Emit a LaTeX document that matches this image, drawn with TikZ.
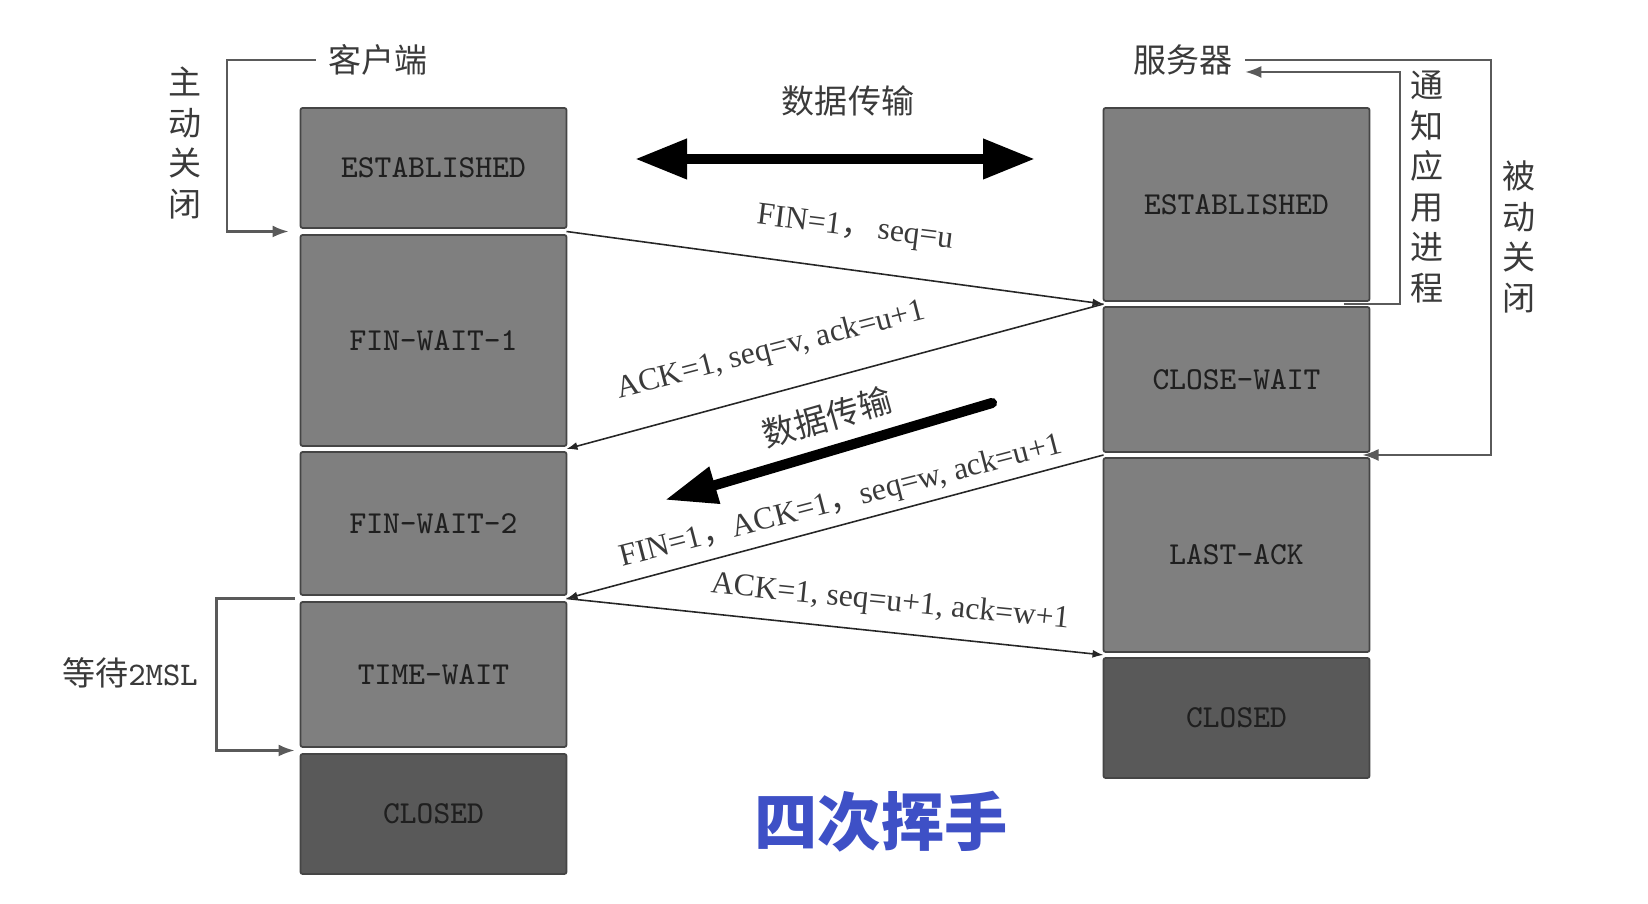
\documentclass[tikz,border=0pt]{standalone}
\usepackage{fontspec}
\setmainfont{Liberation Serif}
\newfontfamily\cjk{Noto Sans CJK SC}
\usetikzlibrary{arrows.meta,calc}

\definecolor{boxgray}{HTML}{7F7F7F}
\definecolor{boxdark}{HTML}{595959}
\definecolor{boxline}{HTML}{454545}
\definecolor{linegray}{HTML}{5A5A5A}
\definecolor{textgray}{HTML}{3A3A3A}
\definecolor{titleblue}{RGB}{62,80,198}

\tikzset{
  state/.style={draw=boxline,fill=boxgray,line width=0.5pt,rounded corners=0.6pt,
    minimum width=2.66cm,inner sep=0pt,outer sep=0pt,text=black!88,
    font=\ttfamily\fontsize{9.1}{11}\selectfont},
  deadstate/.style={state,fill=boxdark},
  msg/.style={draw=black!85,line width=0.45pt,-{Latex[length=1.1mm,width=0.8mm]}},
  msgtext/.style={text=textgray,font=\fontsize{9}{11}\selectfont,inner sep=0pt},
  cjklabel/.style={text=textgray,font=\cjk\fontsize{9.4}{11.5}\selectfont,align=center,inner sep=0pt},
  bracket/.style={draw=linegray,line width=0.6pt,-{Latex[length=1.6mm,width=1.2mm]}},
  bigarrow/.style={line width=2.9pt,line cap=round}
}

\begin{document}
\begin{tikzpicture}
\useasboundingbox (0,0) rectangle (16.48,9.04);
% Client states (left column)
\node[state,minimum height=1.20cm] (cEst) at (4.335,7.36) {ESTABLISHED};
\node[state,minimum height=2.11cm] (cFw1) at (4.335,5.635) {FIN-WAIT-1};
\node[state,minimum height=1.43cm] (cFw2) at (4.335,3.805) {FIN-WAIT-2};
\node[state,minimum height=1.45cm] (cTw) at (4.335,2.295) {TIME-WAIT};
\node[deadstate,minimum height=1.20cm] (cCl) at (4.335,0.90) {CLOSED};
% Server states (right column)
\node[state,minimum height=1.93cm] (sEst) at (12.365,6.995) {ESTABLISHED};
\node[state,minimum height=1.45cm] (sCw) at (12.365,5.245) {CLOSE-WAIT};
\node[state,minimum height=1.94cm] (sLa) at (12.365,3.49) {LAST-ACK};
\node[deadstate,minimum height=1.20cm] (sCl) at (12.365,1.86) {CLOSED};
% Gaps between states
\coordinate (gLa) at ($(cEst.south east)!.5!(cFw1.north east)$);
\coordinate (gLb) at ($(cFw1.south east)!.5!(cFw2.north east)$);
\coordinate (gLc) at ($(cFw2.south east)!.5!(cTw.north east)$);
\coordinate (gLaW) at ($(cEst.south west)!.5!(cFw1.north west)$);
\coordinate (gLcW) at ($(cFw2.south west)!.5!(cTw.north west)$);
\coordinate (gLdW) at ($(cTw.south west)!.5!(cCl.north west)$);
\coordinate (gRa) at ($(sEst.south west)!.5!(sCw.north west)$);
\coordinate (gRb) at ($(sCw.south west)!.5!(sLa.north west)$);
\coordinate (gRc) at ($(sLa.south west)!.5!(sCl.north west)$);
\coordinate (gRaE) at ($(sEst.south east)!.5!(sCw.north east)$);
\coordinate (gRbE) at ($(sCw.south east)!.5!(sLa.north east)$);
% Side labels
\node[cjklabel,inner sep=1.2mm] (client) at (3.78,8.44) {客户端};
\node[cjklabel,inner sep=1.2mm] (server) at (11.83,8.44) {服务器};
\node[cjklabel] (actClose) at (1.85,7.61) {主\\动\\关\\闭};
\node[cjklabel] (notify) at (14.27,7.17) {通\\知\\应\\用\\进\\程};
\node[cjklabel] (pasClose) at (15.19,6.67) {被\\动\\关\\闭};
\node[cjklabel] (wait) at (1.30,2.31) {等待{\ttfamily 2MSL}};
% Brackets
\draw[bracket,shorten >=1.2mm] (client.west) -- ++(-0.885,0) |- (gLaW);
\draw[bracket,shorten >=0.6mm] ($(gLcW)+(-0.06,0)$) -- ++(-0.78,0) |- (gLdW);
\draw[bracket] ($(gRaE)+(-0.26,0)$) -- ++(0.565,0) |- ($(server.east)+(0,-0.12)$);
\draw[bracket] (server.east) -- ++(2.455,0) |- ($(gRbE)+(-0.07,0)$);
% Data transfer
\node[cjklabel] (dataTop) at (8.48,8.03) {数据传输};
\coordinate (dL) at (6.35,7.45);
\coordinate (dR) at (10.35,7.45);
\draw[bigarrow,{Triangle[length=5.2mm,width=3.8mm]}-{Triangle[length=5.2mm,width=3.8mm]}] (dL) -- (dR);
\node[cjklabel,rotate=16] (dataMid) at (8.27,4.87) {数据传输};
\coordinate (mTail) at (9.92,5.01);
\coordinate (mHead) at (6.65,4.04);
\draw[bigarrow,-{Triangle[length=5.2mm,width=3.6mm]}] (mTail) -- (mHead);
% Segments
\draw[msg] (gLa) -- (gRa);
\draw[msg] (gRa) -- (gLb);
\draw[msg] (gRb) -- (gLc);
\draw[msg] (gLc) -- (gRc);
% Segment labels
\node[msgtext,rotate=-7] (tFin1) at (8.55,6.75) {FIN=1{\cjk ，}\,seq=u};
\node[msgtext,rotate=14.5] (tAck1) at (7.71,5.53) {ACK=1, seq=v, ack=u+1};
\node[msgtext,rotate=14.5] (tFin2) at (8.41,4.02) {FIN=1{\cjk ，}ACK=1{\cjk ，}seq=w, ack=u+1};
\node[msgtext,rotate=-5.7] (tAck2) at (8.90,3.01) {ACK=1, seq=u+1, ack=w+1};
% Title
\node[text=titleblue,font=\cjk\bfseries\fontsize{18}{20}\selectfont] (title) at (8.81,0.82) {四次挥手};
\end{tikzpicture}
\end{document}
